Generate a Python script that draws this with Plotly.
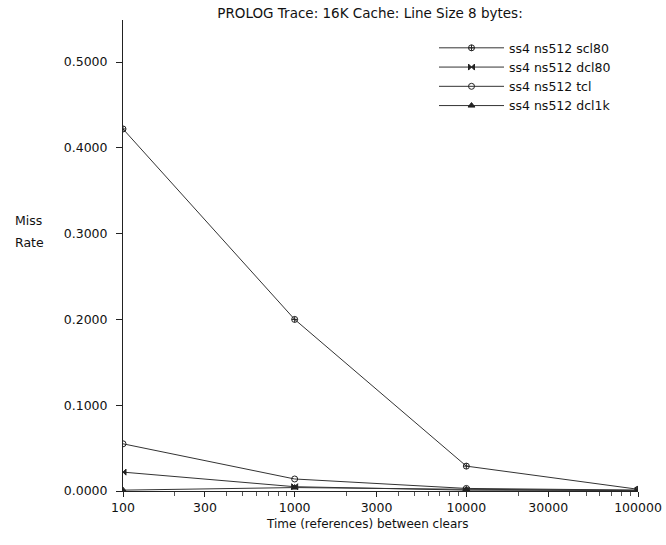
import plotly.graph_objects as go

x_refs = [100, 1000, 10000, 100000]
scl80 = [0.422, 0.200, 0.029, 0.002]
dcl80 = [0.022, 0.005, 0.001, 0.0005]
tcl = [0.055, 0.014, 0.003, 0.001]
dcl1k = [0.001, 0.004, 0.002, 0.0008]

series_names = ["ss4 ns512 scl80", "ss4 ns512 dcl80", "ss4 ns512 tcl", "ss4 ns512 dcl1k"]
y_ticks = [0.0, 0.1, 0.2, 0.3, 0.4, 0.5]
x_ticks = [100, 300, 1000, 3000, 10000, 30000, 100000]
x_minor = [m * d for d in [100, 1000, 10000] for m in range(2, 10)]

FONT = "DejaVu Sans, Liberation Sans, sans-serif"

fig = go.Figure()
styles = [
    dict(symbol="circle-cross-open", size=6),
    dict(symbol="bowtie", size=6),
    dict(symbol="circle-open", size=6),
    dict(symbol="triangle-up", size=6),
]
for name, ys, st in zip(series_names, [scl80, dcl80, tcl, dcl1k], styles):
    fig.add_trace(go.Scatter(
        x=x_refs, y=ys, name=name, mode="lines+markers",
        line=dict(color="#333333", width=1),
        marker=dict(color="#222222", line=dict(color="#222222", width=1), **st),
    ))

fig.update_layout(
    width=666, height=545,
    margin=dict(l=123, r=28, t=20, b=54, autoexpand=False),
    paper_bgcolor="white", plot_bgcolor="white",
    font=dict(family=FONT, size=12.5, color="#111111"),
    title=dict(text="PROLOG Trace: 16K Cache: Line Size 8 bytes:", x=370 / 666, xanchor="center",
               y=0.985, yanchor="top", font=dict(size=13.5)),
    showlegend=True,
    legend=dict(x=(434 - 123) / 515, y=0.972, xanchor="left", yanchor="top", bgcolor="rgba(0,0,0,0)",
                font=dict(size=12.5), itemwidth=65, tracegroupgap=0),
    xaxis=dict(type="log", range=[2, 5], tickvals=x_ticks, ticktext=[str(v) for v in x_ticks],
               automargin=False,
               showgrid=False, zeroline=False, showline=True, linecolor="#222222", linewidth=1,
               ticks="outside", ticklen=5, tickcolor="#222222",
               minor=dict(tickvals=x_minor, ticks="outside", ticklen=4, tickcolor="#555555", showgrid=False)),
    yaxis=dict(range=[0, 0.549], tickvals=y_ticks, tickformat=".4f", automargin=False,
               showgrid=False, zeroline=False, showline=True, linecolor="#222222", linewidth=1,
               ticks="outside", ticklen=6, tickcolor="#222222", ticklabelstandoff=6),
    annotations=[
        dict(text="Miss", xref="paper", yref="paper", x=(13 - 123) / 515, y=(491 - 220) / 471,
             xanchor="left", yanchor="middle", showarrow=False, font=dict(size=12.5)),
        dict(text="Rate", xref="paper", yref="paper", x=(13 - 123) / 515, y=(491 - 242) / 471,
             xanchor="left", yanchor="middle", showarrow=False, font=dict(size=12.5)),
        dict(text="Time (references) between clears", xref="paper", yref="paper",
             x=(367 - 123) / 515, y=(491 - 524) / 471, xanchor="center", yanchor="middle",
             showarrow=False, font=dict(size=12)),
    ],
)

fig.write_html("out.html")
